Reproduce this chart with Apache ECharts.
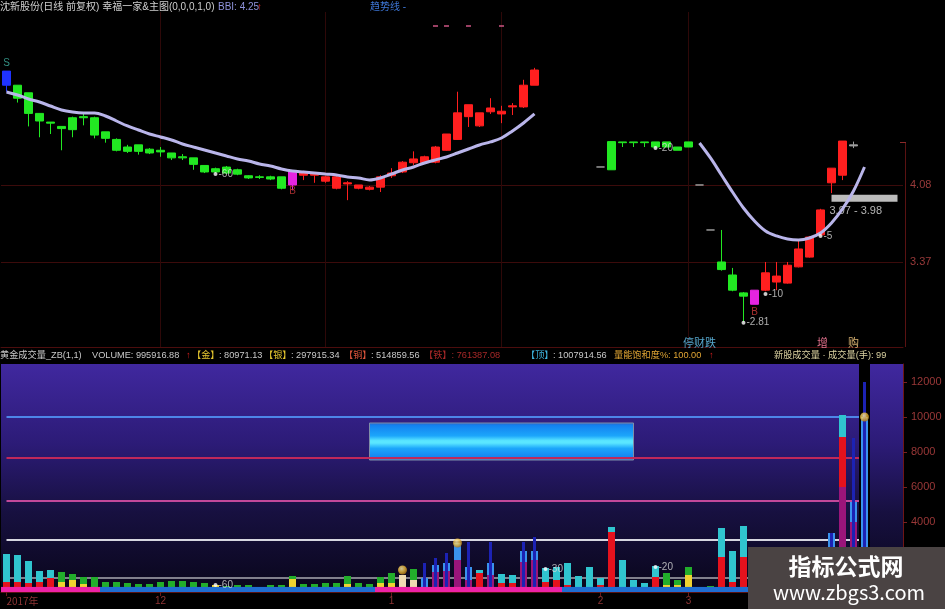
<!DOCTYPE html>
<html>
<head>
<meta charset="utf-8">
<script src="https://cdn.jsdelivr.net/npm/echarts@6/dist/echarts.min.js"></script>
<style>
html,body{margin:0;padding:0;background:#000;overflow:hidden;}
#chart{width:945px;height:609px;}
</style>
</head>
<body>
<div id="chart"></div>
<script>
// ================= DATA =================
const categories = Array.from({length: 82}, (_, i) => String(i));
const tickIndex = [0, 14, 35, 54, 62];
const tickText = ['2017年', '12', '1', '2', '3'];

// price candles: [open, close, low, high]
const candles = [
 [5.13,5.00,4.94,5.13],[5.00,4.88,4.84,5.00],[4.93,4.74,4.62,4.93],[4.74,4.67,4.52,4.74],[4.66,4.65,4.55,4.66],
 [4.62,4.60,4.40,4.62],[4.70,4.59,4.52,4.71],[4.71,4.70,4.63,4.74],[4.70,4.54,4.51,4.71],[4.57,4.51,4.47,4.57],
 [4.50,4.40,4.39,4.51],[4.43,4.39,4.375,4.45],[4.45,4.39,4.36,4.45],[4.41,4.375,4.365,4.42],[4.40,4.385,4.34,4.43],
 [4.375,4.33,4.31,4.375],[4.34,4.33,4.31,4.365],[4.33,4.27,4.22,4.33],[4.26,4.20,4.19,4.26],[4.23,4.20,4.19,4.24],
 [4.245,4.19,4.18,4.255],[4.22,4.18,4.17,4.23],[4.165,4.145,4.135,4.17],[4.155,4.15,4.135,4.17],[4.155,4.135,4.125,4.165],
 [4.155,4.05,4.04,4.155],[4.08,4.20,4.03,4.20],[4.17,4.19,4.125,4.21],[4.17,4.18,4.10,4.19],[4.115,4.155,4.10,4.165],
 [4.05,4.155,4.04,4.165],[4.09,4.10,3.94,4.115],[4.05,4.08,4.04,4.08],[4.04,4.06,4.03,4.07],[4.06,4.155,4.015,4.17],
 [4.165,4.19,4.145,4.235],[4.20,4.29,4.19,4.30],[4.285,4.32,4.265,4.39],[4.285,4.34,4.275,4.35],[4.29,4.43,4.28,4.44],
 [4.40,4.55,4.395,4.55],[4.50,4.745,4.495,4.94],[4.71,4.82,4.615,4.82],[4.625,4.745,4.615,4.745],[4.755,4.79,4.735,4.88],
 [4.735,4.76,4.65,4.81],[4.80,4.81,4.725,4.835],[4.80,5.00,4.79,5.05],[5.00,5.14,5.00,5.16],
 null,null,null,null,null,
 [4.246,4.246,4.246,4.246],[4.48,4.22,4.22,4.48],[4.477,4.47,4.43,4.477],[4.477,4.47,4.43,4.477],[4.477,4.47,4.43,4.477],
 [4.477,4.43,4.43,4.477],[4.477,4.43,4.43,4.477],[4.43,4.40,4.40,4.43],[4.477,4.43,4.43,4.477],[4.08,4.08,4.08,4.08],
 [3.665,3.665,3.665,3.665],[3.37,3.30,3.29,3.665],[3.25,3.11,3.10,3.315],[3.085,3.055,2.817,3.093],[2.98,3.11,2.98,3.11],
 [3.11,3.27,3.10,3.37],[3.185,3.24,3.11,3.37],[3.175,3.34,3.17,3.37],[3.325,3.49,3.32,3.57],[3.415,3.60,3.41,3.61],
 [3.62,3.85,3.61,3.86],[4.10,4.235,4.005,4.235],[4.17,4.485,4.125,4.485],[4.44,4.45,4.42,4.48]
];
// special candle kinds (signal S / signal B / one-price bars)
const candleKind = {0:'S', 26:'B', 68:'B', 54:'flat', 63:'flat', 64:'flat', 77:'flat'};

// BBI line
const bbi = [
 4.938,4.910,4.873,4.845,4.808,4.772,4.753,4.744,4.744,4.716,
 4.670,4.624,4.587,4.550,4.523,4.495,4.458,4.430,4.403,4.375,
 4.347,4.320,4.301,4.274,4.255,4.228,4.209,4.200,4.191,4.181,
 4.172,4.154,4.145,4.126,4.145,4.181,4.218,4.246,4.283,4.311,
 4.338,4.375,4.412,4.449,4.477,4.513,4.578,4.652,4.735,
 '-','-','-','-','-','-','-','-','-','-','-','-','-','-',
 4.467,4.329,4.172,4.015,3.868,3.748,3.656,3.610,3.582,3.573,3.591,3.637,3.730,3.859,4.025,4.246
];
const priceNotes = [[19,4.181,'-60'],[59,4.421,'-20'],[67,2.81,'-2.81'],[69,3.075,'-10'],[74,3.61,'-5']];
const signalText = [[0,5.205,'S'],[26,4.025,'B'],[68,2.909,'B']];
const topTicks = [[39,5.546],[40,5.546],[42,5.546],[45,5.546]];
const priceLevels = [4.08, 3.37];
const timeLines = ['14','29','45','62'];
const supportBand = {from:'75', to:'81', low:3.925, high:3.99, text:'3.97 - 3.98'};

// volume segments [type, value]; types: c cyan, r red, g green, y yellow, b blue, p purple, w cream
const volLow = [
 ['r',571],['r',571],['r',514],['r',571],['r',800],['y',571],['y',686],['y',457],['g',857],['g',571],
 ['g',571],['y',229],['g',457],['g',457],['y',286],['g',629],['y',286],['y',286],['g',514],['y',400],
 ['g',343],['g',400],['g',400],['g',286],['g',400],['g',400],['y',743],['y',229],['g',457],['g',514],
 ['g',514],['y',457],['y',286],['y',286],['y',514],['y',514],['w',971],['w',686],['b',800],['p',1143],
 ['p',1200],['p',1829],['p',686],['r',1086],['p',971],['r',514],['r',514],['p',1714],['p',1829],['r',571],
 ['r',686],['r',400],['c',914],['c',1429],['r',400],['r',3429],['r',229],['c',686],['c',514],['r',857],
 ['y',400],['y',400],['y',971],['g',286],['g',343],['r',2000],['r',571],['r',2000],['r',800],['c',1100],
 ['r',600],['c',900],['r',700],['c',1200],['r',900],['b',3371],['p',6000],['p',4000],['b',10000]
];
const volMidSeg = [[76,'r',2857]];
const volTop = [
 ['c',1600],['c',1543],['c',1257],['c',629],['c',457],['g',572],['g',343],['g',400],null,null,
 null,['g',285],null,null,['g',285],null,['g',343],['g',285],null,null,
 null,null,null,null,null,null,['g',171],['g',228],null,null,
 null,['g',457],['g',228],['g',171],['g',343],['g',572],null,['g',628],null,['b',400],
 ['b',457],['b',971],['b',743],['c',171],['b',686],['c',515],['c',457],['b',629],['b',514],['c',800],
 ['c',743],['c',1257],null,null,['c',400],['c',285],['c',1600],null,null,['c',629],
 ['g',686],['g',286],['g',458],null,null,['c',1657],['c',1772],['c',1771],['c',900],null,
 ['c',700],null,['c',800],null,['c',900],null,['c',1257],['b',1143],null
];
const volSpike = [[38,1657],[39,1943],[40,2229],[42,2857],[44,2857],[47,2857],[48,3143],[75,3371],[77,8800],[78,12000]];
const trendRuns = [['P',9],['B',25],['P',17],['B',28]];
const activeBar = 78;
const volLevels = [10000, 7650, 5200, 2970, 800];
const volBand = {from:'33', to:'57', low:7543, high:9657};
const goldDots = [[36,1257],[41,2800],[78,10000]];
const volNotes = [[19,400,'-60'],[49,1314,'-30'],[59,1429,'-20']];

// ================= STYLE / BUILD =================
const FONT = "'Liberation Sans','Noto Sans CJK SC',sans-serif";
const CJK = "'Noto Sans CJK SC','Liberation Sans',sans-serif";
const Y1MAX = 13029;
const segColor = {c:'#30c5cf', r:'#e5121d', g:'#22ad2b', y:'#efd330', b:'#3a93ee', p:'#9a157a', w:'#f0dbb2'};
const kindColor = {S:'#1f33ff', B:'#e524e0', flat:'#9c9c9c'};
const levelColor = ['#4d86e8','#c0285a','#c2489a','#d6d6e0','#a8a8b0'];

const candleData = candles.map((c, i) => {
  if (!c) return '-';
  const k = candleKind[i];
  if (!k) return c;
  const col = kindColor[k];
  return {value: c, itemStyle: {color: col, color0: col, borderColor: col, borderColor0: col, borderColorDoji: col}};
});
const segItem = s => s ? {value: s[1], itemStyle: {color: segColor[s[0]]}} : '-';
const volLowData = volLow.map(segItem);
const volTopData = volTop.map(segItem);
const volMidData = volLow.map((_, i) => {
  const m = volMidSeg.find(d => d[0] === i);
  return m ? {value: m[2], itemStyle: {color: segColor[m[1]]}} : '-';
});
const ribbonData = [];
trendRuns.forEach(([s, n]) => { for (let k = 0; k < n; k++) ribbonData.push({value: 290, itemStyle: {color: s === 'P' ? '#ee22a6' : '#1f6ed2'}}); });

const bandGradient = new echarts.graphic.LinearGradient(0, 0, 0, 1, [
  {offset:0, color:'#2f64c4'}, {offset:0.08, color:'#1482f0'}, {offset:0.35, color:'#1ca6fb'},
  {offset:0.48, color:'#5ae6ff'}, {offset:0.54, color:'#5ae6ff'}, {offset:0.68, color:'#1ca6fb'},
  {offset:0.92, color:'#1482f0'}, {offset:1, color:'#2f64c4'}
]);
const goldColor = new echarts.graphic.RadialGradient(0.4, 0.35, 0.7, [
  {offset:0, color:'#fff2b0'}, {offset:0.5, color:'#f0c040'}, {offset:1, color:'#a86c08'}
]);

function txt(x, y, text, color, size, font, extra) {
  return Object.assign({type:'text', x:x, y:y, z:50, silent:true,
    style:{text:text, fill:color, font:(size||10)+'px '+(font||FONT), textVerticalAlign:'middle', verticalAlign:'middle'}}, extra||{});
}

const headerTop = [
  [0, '沈新股份(日线 前复权) 幸福一家&主图(0,0,0,1,0)', '#cfcfcf'],
  [218, 'BBI: 4.25', '#8f93dc'],
  [257, '↑', '#e02828'],
  [370, '趋势线 -', '#3d76d6']
];
const headerBottom = [
  [0, '黄金成交量_ZB(1,1)', '#c9c9c9'],
  [92, 'VOLUME: 995916.88', '#c9c9c9'],
  [186, '↑', '#e02020'],
  [192, '【金】', '#e6c72f'], [219, ': 80971.13', '#c9c9c9'],
  [264, '【银】', '#e6c72f'], [291, ': 297915.34', '#c9c9c9'],
  [344, '【铜】', '#e0553c'], [371, ': 514859.56', '#c9c9c9'],
  [424, '【铁】: 761387.08', '#a82828'],
  [526, '【顶】', '#3fb6e0'], [553, ': 1007914.56', '#c9c9c9'],
  [614, '量能饱和度%: 100.00', '#e2a634'],
  [709, '↑', '#e02020'],
  [774, '新股成交量 · 成交量(手): 99', '#dcd3a2']
];
const graphics = [];
headerTop.forEach(h => graphics.push(txt(h[0], 7, h[1], h[2], 10)));
headerBottom.forEach(h => graphics.push(txt(h[0], 355, h[1], h[2], 9.2)));
graphics.push(txt(683, 343, '停财跌', '#56a6cc', 11, CJK));
graphics.push(txt(817, 343, '增', '#e0708c', 11, CJK));
graphics.push(txt(848, 343, '购', '#d6b070', 11, CJK));
graphics.push({type:'line', z:5, silent:true, shape:{x1:905.5, y1:142, x2:905.5, y2:347}, style:{stroke:'#5a1212', lineWidth:1}});
graphics.push({type:'line', z:5, silent:true, shape:{x1:900, y1:142.5, x2:906, y2:142.5}, style:{stroke:'#8a2a2a', lineWidth:1}});
// watermark
graphics.push({type:'rect', z:100, silent:true, shape:{x:748, y:547, width:197, height:62}, style:{fill:'#4a4343'}});
graphics.push({type:'text', z:101, silent:true, x:846, y:566, style:{text:'指标公式网', fill:'#ffffff', font:'bold 23px '+CJK, textAlign:'center', align:'center', textVerticalAlign:'middle', verticalAlign:'middle'}});
graphics.push({type:'text', z:101, silent:true, x:849, y:592, style:{text:'www.zbgs3.com', fill:'#ffffff', font:'20px '+CJK, textAlign:'center', align:'center', textVerticalAlign:'middle', verticalAlign:'middle'}});

const option = {
  backgroundColor: '#000',
  animation: false,
  grid: [
    {left: 1, right: 42, top: 12, bottom: 262, show: false},
    {left: 1, right: 42, top: 364, bottom: 17, show: true, borderWidth: 0,
     backgroundColor: new echarts.graphic.LinearGradient(0, 0, 0, 1, [
       {offset:0, color:'#40289f'}, {offset:0.35, color:'#2c1b77'}, {offset:0.65, color:'#171040'}, {offset:1, color:'#09061a'}])}
  ],
  xAxis: [
    {gridIndex:0, type:'category', data:categories, axisLine:{show:true, lineStyle:{color:'#4c0d0d'}}, axisTick:{show:false}, axisLabel:{show:false}, splitLine:{show:false}},
    {gridIndex:1, type:'category', data:categories,
     axisLine:{show:true, lineStyle:{color:'#5a1212'}},
     axisTick:{show:true, alignWithLabel:true, length:4, interval:(i) => tickIndex.includes(i), lineStyle:{color:'#6a1a1a'}},
     axisLabel:{interval:0, color:'#8e3434', fontSize:10, fontFamily:FONT, margin:4,
       formatter:(v, i) => { const k = tickIndex.indexOf(i); if (k < 0) return ''; return k === 0 ? '{a|' + tickText[k] + '}' : tickText[k]; },
       rich:{a:{padding:[0,0,0,32], color:'#8e3434', fontSize:10, fontFamily:CJK}}},
     splitLine:{show:false}},
    {gridIndex:1, type:'category', data:categories, show:false},
    {gridIndex:1, type:'category', data:categories, show:false}
  ],
  yAxis: [
    {gridIndex:0, type:'value', position:'right', min:2.586, max:5.675, show:false, splitLine:{show:false}},
    {gridIndex:1, type:'value', position:'right', min:0, max:Y1MAX, interval:2000,
     axisLine:{show:true, lineStyle:{color:'#6e1616'}},
     axisTick:{show:true, length:4, lineStyle:{color:'#7a2020'}},
     axisLabel:{color:'#9a3838', fontSize:11, fontFamily:FONT, margin:8, showMaxLabel:false, formatter:(v) => (v % 2000 === 0 ? String(v) : '')},
     splitLine:{show:false}}
  ],
  graphic: graphics,
  series: [
    {type:'candlestick', name:'K', xAxisIndex:0, yAxisIndex:0, barWidth:8, z:2,
     itemStyle:{color:'#ff1f1f', color0:'#22e822', borderColor:'#ff1f1f', borderColor0:'#22e822', borderWidth:1},
     data:candleData,
     markLine:{silent:true, symbol:'none', z:1, animation:false,
       lineStyle:{color:'#3c0b0b', width:1, type:'solid'},
       label:{show:true, position:'end', distance:7, formatter:'{c}', color:'#9a3a3a', fontSize:11, fontFamily:FONT},
       data: priceLevels.map(v => ({yAxis:v})).concat(timeLines.map(x => ({xAxis:x, label:{show:false}, lineStyle:{color:'#2e0808'}})))},
     markArea:{silent:true, z:3,
       data:[[{coord:[supportBand.from, supportBand.high], itemStyle:{color:'#bcbcbc'},
               label:{show:true, position:'insideTopLeft', distance:1, offset:[-3, 10], formatter:supportBand.text, color:'#b5b5b5', fontSize:11, fontFamily:FONT}},
              {coord:[supportBand.to, supportBand.low]}]]}
    },
    {type:'line', name:'BBI', xAxisIndex:0, yAxisIndex:0, data:bbi, smooth:0.35, showSymbol:false, connectNulls:false, z:3,
     lineStyle:{color:'#b9b5ea', width:3}},
    {type:'scatter', xAxisIndex:0, yAxisIndex:0, z:4, symbolSize:4, itemStyle:{color:'#ffffff'},
     data: priceNotes.map(d => ({value:[d[0], d[1]], note:d[2]})),
     label:{show:true, position:'right', distance:1, formatter:p => p.data.note, color:'#d8d8d8', fontSize:10, fontFamily:FONT}},
    {type:'scatter', xAxisIndex:0, yAxisIndex:0, z:4, symbolSize:1, itemStyle:{color:'transparent'},
     data: signalText.map(d => ({value:[d[0], d[1]], note:d[2], label:{color: d[2] === 'S' ? '#3fb3a2' : '#d23b3b'}})),
     label:{show:true, position:'inside', formatter:p => p.data.note, fontSize:10, fontFamily:FONT}},
    {type:'scatter', xAxisIndex:0, yAxisIndex:0, z:4, symbol:'rect', symbolSize:[5,2], itemStyle:{color:'#c0507c'}, data:topTicks},

    {type:'bar', name:'volLow', xAxisIndex:1, yAxisIndex:1, stack:'v', barWidth:7, z:2, data:volLowData,
     markLine:{silent:true, symbol:'none', z:1, animation:false, label:{show:false},
       data: volLevels.map((v, k) => [{coord:['0', v], lineStyle:{color:levelColor[k], width: k === 4 ? 1.5 : 2, type:'solid'}}, {coord:['78', v]}])}
    },
    {type:'bar', name:'volMid', xAxisIndex:1, yAxisIndex:1, stack:'v', barWidth:7, z:2, data:volMidData},
    {type:'bar', name:'volTop', xAxisIndex:1, yAxisIndex:1, stack:'v', barWidth:7, z:2, data:volTopData},
    {type:'bar', name:'spike', xAxisIndex:2, yAxisIndex:1, barWidth:3, z:2.5, itemStyle:{color:'#1c22b4'}, data:volSpike},
    {type:'bar', name:'active', xAxisIndex:3, yAxisIndex:1, barWidth:'100%', barGap:'-100%', z:1.5, itemStyle:{color:'#000000'}, data:[[activeBar, Y1MAX]]},
    {type:'bar', name:'ribbon', xAxisIndex:3, yAxisIndex:1, barWidth:'100%', barGap:'-100%', z:3, data:ribbonData},
    {type:'scatter', xAxisIndex:1, yAxisIndex:1, z:5, symbolSize:9, itemStyle:{color:goldColor}, data:goldDots},
    {type:'scatter', xAxisIndex:1, yAxisIndex:1, z:5, symbolSize:4, itemStyle:{color:'#ffffff'},
     data: volNotes.map(d => ({value:[d[0], d[1]], note:d[2]})),
     label:{show:true, position:'right', distance:1, formatter:p => p.data.note, color:'#d8d8d8', fontSize:10, fontFamily:FONT},
     markArea:{silent:true, z:1,
       data:[[{xAxis:volBand.from, yAxis:volBand.high, itemStyle:{color:bandGradient, borderColor:'#7e8ea8', borderWidth:1}}, {xAxis:volBand.to, yAxis:volBand.low}]]}
    }
  ]
};
const chart = echarts.init(document.getElementById('chart'));
chart.setOption(option);
</script>
</body>
</html>
